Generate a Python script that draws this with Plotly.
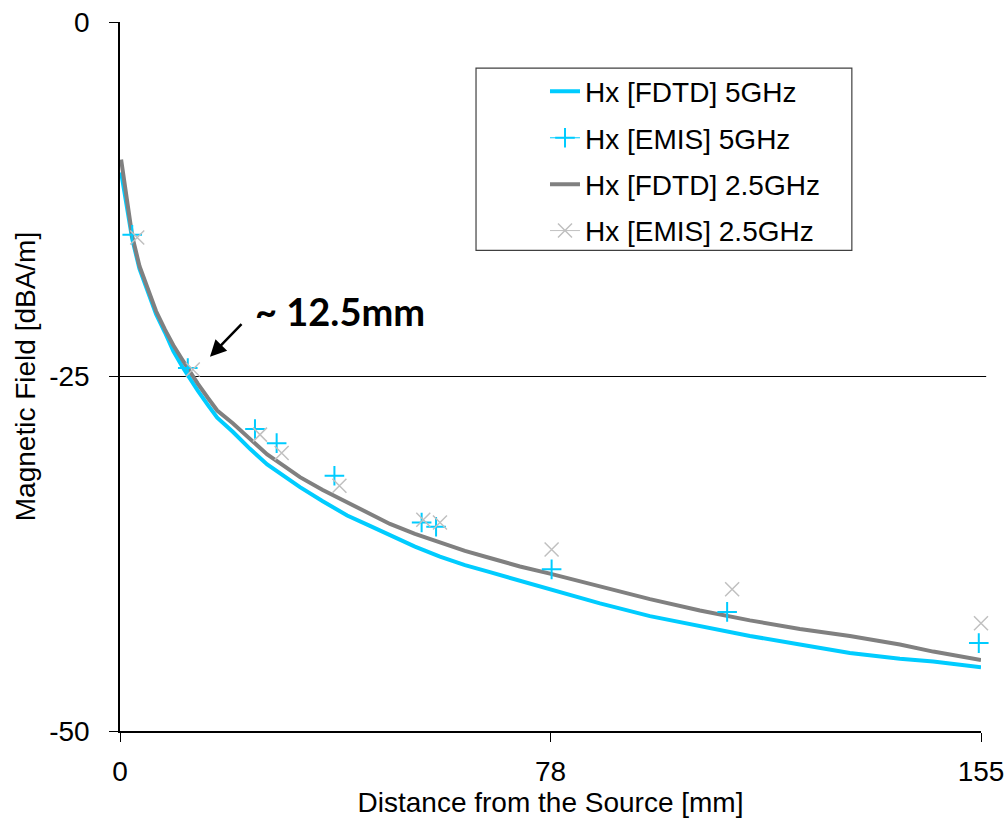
import plotly.graph_objects as go

# ---------------- data ----------------
fdtd_x = [0.2, 0.9, 2.2, 3.5, 5.0, 6.5, 8.1, 9.6, 11.2, 12.6, 14.0, 15.8, 17.5,
          20.3, 23.4, 26.5, 29.5, 32.4, 36.5, 40.9, 44.8, 48.6, 53.1, 57.6,
          62.1, 66.6, 72.0, 77.4, 86.4, 95.4, 104.4, 113.4, 122.4, 131.4,
          140.4, 146.4, 155.0]
fdtd_5ghz = [-10.6, -12.3, -15.3, -17.4, -19.1, -20.6, -21.9, -23.2, -24.3,
             -25.2, -26.0, -27.0, -27.9, -28.9, -30.1, -31.2, -32.0, -32.8,
             -33.8, -34.8, -35.5, -36.2, -37.0, -37.7, -38.3, -38.8, -39.4,
             -40.0, -41.0, -41.9, -42.6, -43.3, -43.9, -44.5, -44.9, -45.1,
             -45.5]
fdtd_25ghz = [-9.7, -11.6, -15.1, -17.2, -18.9, -20.4, -21.7, -22.8, -23.8,
              -24.7, -25.5, -26.5, -27.4, -28.3, -29.4, -30.5, -31.3, -32.1,
              -33.0, -33.9, -34.7, -35.4, -36.1, -36.7, -37.3, -37.8, -38.4,
              -38.9, -39.8, -40.7, -41.5, -42.2, -42.8, -43.3, -43.9, -44.4,
              -45.0]

emis_5ghz_x = [2.2, 12.2, 24.3, 28.2, 38.6, 54.3, 56.9, 77.7, 109.3, 154.6]
emis_5ghz_y = [-15.0, -24.4, -28.7, -29.7, -32.0, -35.3, -35.6, -38.6, -41.6, -43.8]
emis_25ghz_x = [3.1, 13.1, 25.2, 29.1, 39.5, 54.6, 57.6, 77.7, 110.2, 155.0]
emis_25ghz_y = [-15.2, -24.5, -29.1, -30.4, -32.7, -35.1, -35.3, -37.2, -40.0, -42.4]

x_tickvals = [0, 77.5, 155]
x_ticktext = ["0", "78", "155"]
y_tickvals = [-50, -25, 0]
y_ticktext = ["-50", "-25", "0"]

names = ["Hx [FDTD] 5GHz", "Hx [EMIS] 5GHz", "Hx [FDTD] 2.5GHz", "Hx [EMIS] 2.5GHz"]
threshold = -25

# ---------------- styling ----------------
CYAN = "#00CCFF"
GRAY = "#808080"
LIGHT = "#C0C0C0"
FONT = "Liberation Sans, Arial, sans-serif"

fig = go.Figure()

fig.add_trace(go.Scatter(x=fdtd_x, y=fdtd_5ghz, mode="lines", name=names[0],
                         line=dict(color=CYAN, width=4), legendgroup="a"))
fig.add_trace(go.Scatter(x=[None], y=[None], mode="lines+markers", name=names[1],
                         line=dict(color=CYAN, width=1),
                         marker=dict(symbol="cross-thin", size=14,
                                     line=dict(color=CYAN, width=2)),
                         legendgroup="b"))
fig.add_trace(go.Scatter(x=fdtd_x, y=fdtd_25ghz, mode="lines", name=names[2],
                         line=dict(color=GRAY, width=4), legendgroup="c"))
fig.add_trace(go.Scatter(x=[None], y=[None], mode="lines+markers", name=names[3],
                         line=dict(color=LIGHT, width=1),
                         marker=dict(symbol="x-thin", size=14,
                                     line=dict(color=LIGHT, width=1.5)),
                         legendgroup="d"))

fig.add_trace(go.Scatter(x=emis_5ghz_x, y=emis_5ghz_y, mode="markers",
                         showlegend=False, cliponaxis=False,
                         marker=dict(symbol="cross-thin", size=14,
                                     line=dict(color=CYAN, width=2))))
fig.add_trace(go.Scatter(x=emis_25ghz_x, y=emis_25ghz_y, mode="markers",
                         showlegend=False, cliponaxis=False,
                         marker=dict(symbol="x-thin", size=14,
                                     line=dict(color=LIGHT, width=1.5))))

fig.add_shape(type="line", xref="paper", yref="y", x0=0, x1=1.006,
              y0=threshold, y1=threshold, line=dict(color="black", width=1.2),
              layer="below")
fig.add_shape(type="rect", xref="paper", yref="paper",
              x0=0.4135, x1=0.850, y0=0.678, y1=0.935,
              line=dict(color="#404040", width=1.2), fillcolor="white",
              layer="below")

fig.add_annotation(x=39.6, y=-20.35, xref="x", yref="y", text="<b>~ 12.5mm</b>",
                   showarrow=False, font=dict(family="Lato, Open Sans, sans-serif",
                                              size=38, color="black"))
fig.add_annotation(x=16.2, y=-23.6, xref="x", yref="y", text="",
                   showarrow=True, ax=33, ay=-34, arrowhead=2, arrowsize=1.3,
                   arrowwidth=2.5, arrowcolor="black")

fig.update_layout(
    width=1007, height=840,
    margin=dict(l=120, r=26, t=22, b=109),
    paper_bgcolor="white", plot_bgcolor="white",
    font=dict(family=FONT, size=28, color="black"),
    showlegend=True,
    legend=dict(x=0.4936, y=0.937, xanchor="left", yanchor="top",
                bgcolor="rgba(0,0,0,0)", borderwidth=0,
                font=dict(family=FONT, size=28, color="black"),
                tracegroupgap=7, itemwidth=30, traceorder="grouped"),
    xaxis=dict(range=[0, 155], tickvals=x_tickvals, ticktext=x_ticktext,
               showline=True, linecolor="black", linewidth=1.5,
               ticks="outside", ticklen=9, tickwidth=1.2, tickcolor="black",
               showgrid=False, zeroline=False, ticklabelstandoff=6,
               automargin=False,
               tickfont=dict(family=FONT, size=28),
               title=dict(text="Distance from the Source [mm]", standoff=4,
                          font=dict(family=FONT, size=28))),
    yaxis=dict(range=[-50, 0], tickvals=y_tickvals, ticktext=y_ticktext,
               showline=True, linecolor="black", linewidth=1.5,
               ticks="outside", ticklen=9, tickwidth=1.2, tickcolor="black",
               showgrid=False, zeroline=False, ticklabelstandoff=14,
               automargin=False,
               tickfont=dict(family=FONT, size=28),
               title=dict(text="Magnetic Field [dBA/m]", standoff=5,
                          font=dict(family=FONT, size=28))),
)

fig.write_html("out.html")
